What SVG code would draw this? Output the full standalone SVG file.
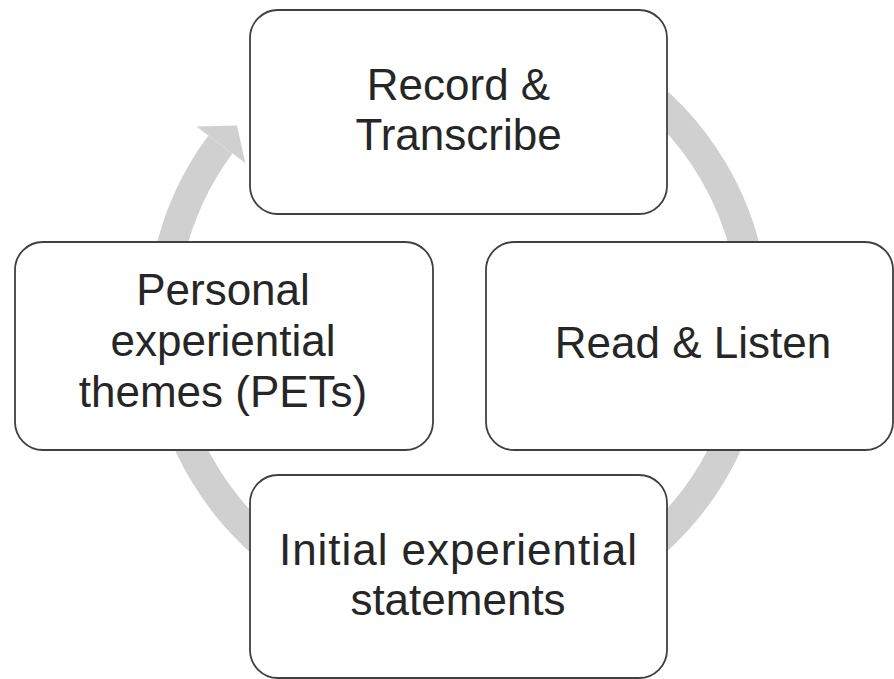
<svg xmlns="http://www.w3.org/2000/svg" width="894" height="679" viewBox="0 0 894 679">
  <style>
    .box { fill: #ffffff; stroke: #404040; stroke-width: 1.8; }
    .lbl { font-family: "Liberation Sans", Arial, sans-serif; font-size: 44px; fill: #262626; text-anchor: middle; }
    .ring { fill: none; stroke: #d0d0d0; stroke-width: 30; }
    .head { fill: #d0d0d0; }
  </style>
  <rect width="894" height="679" fill="#ffffff"/>
  <g id="connectors">
    <path class="ring" d="M 509.4 29.5 A 296 296 0 1 1 220.4 144.5"/>
    <polygon class="head" points="196.3,126.6 237,125.5 245.3,163"/>
  </g>
  <g id="record">
    <rect class="box" x="250" y="10" width="417" height="204" rx="28"/>
    <text class="lbl" x="458.5" y="100">Record &amp;</text>
    <text class="lbl" x="458.5" y="150">Transcribe</text>
  </g>
  <g id="read">
    <rect class="box" x="486" y="242" width="407" height="208" rx="28"/>
    <text class="lbl" x="693" y="358">Read &amp; Listen</text>
  </g>
  <g id="initial">
    <rect class="box" x="250" y="475" width="417" height="203" rx="28"/>
    <text class="lbl" x="458" y="565" textLength="358" lengthAdjust="spacing">Initial experiential</text>
    <text class="lbl" x="458" y="615">statements</text>
  </g>
  <g id="pets">
    <rect class="box" x="15" y="242" width="418" height="208" rx="28"/>
    <text class="lbl" x="223" y="305">Personal</text>
    <text class="lbl" x="223" y="356">experiential</text>
    <text class="lbl" x="223" y="407">themes (PETs)</text>
  </g>
</svg>
